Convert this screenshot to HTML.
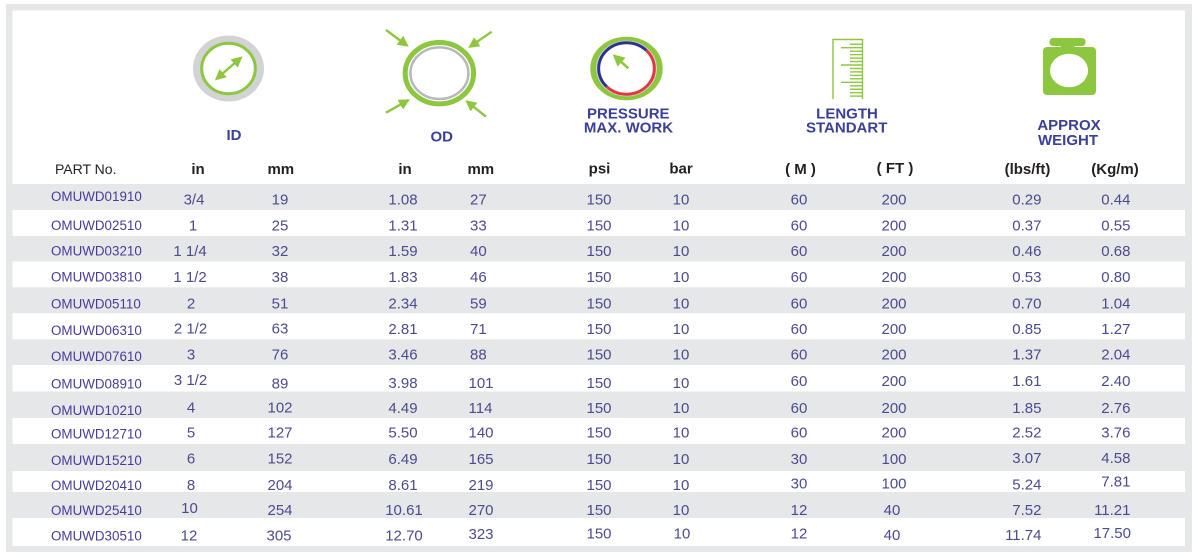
<!DOCTYPE html>
<html>
<head>
<meta charset="utf-8">
<style>
html,body{margin:0;padding:0;background:#fff;width:1198px;height:558px;overflow:hidden;}
svg{display:block;}
text{font-family:"Liberation Sans",Arial,sans-serif;}
.lbl{font-size:15px;font-weight:bold;fill:#3a3f98;text-anchor:middle;}
.unit{font-size:15px;font-weight:bold;fill:#231f20;text-anchor:middle;}
.part{font-size:13.4px;fill:#463c9c;}
.n{font-size:15px;fill:#4b4b8f;text-anchor:middle;}
.nl{font-size:15px;fill:#4b4b8f;text-anchor:start;}
.nr{font-size:15px;fill:#4b4b8f;text-anchor:end;}
</style>
</head>
<body>
<svg width="1198" height="558" viewBox="0 0 1198 558" xmlns="http://www.w3.org/2000/svg">
<defs>
<marker id="ah" viewBox="0 0 10 10" refX="8" refY="5" markerWidth="4.6" markerHeight="4.6" orient="auto-start-reverse" markerUnits="strokeWidth">
<path d="M0,0 L10,5 L0,10 z" fill="#8dc63f"/>
</marker>
</defs>
<!-- frame -->
<rect x="6" y="4" width="1186" height="548" fill="#e6e7e8"/>
<rect x="12.5" y="10.5" width="1172.5" height="535.5" fill="#ffffff"/>
<!-- stripes -->
<g fill="#e6e7e8">
<rect x="12.5" y="184" width="1172.5" height="26"/>
<rect x="12.5" y="236" width="1172.5" height="25.5"/>
<rect x="12.5" y="287.3" width="1172.5" height="26"/>
<rect x="12.5" y="339.3" width="1172.5" height="25.7"/>
<rect x="12.5" y="391.5" width="1172.5" height="26.5"/>
<rect x="12.5" y="444" width="1172.5" height="27"/>
<rect x="12.5" y="492" width="1172.5" height="26"/>
</g>

<!-- ID icon -->
<ellipse cx="228.5" cy="68.5" rx="35.5" ry="33" fill="#d1d3d4"/>
<ellipse cx="228.5" cy="68.5" rx="26.8" ry="25.2" fill="#fff" stroke="#8dc63f" stroke-width="3"/>
<line x1="216.5" y1="78.9" x2="240.8" y2="57.8" stroke="#8dc63f" stroke-width="2.4" marker-start="url(#ah)" marker-end="url(#ah)"/>

<!-- OD icon -->
<ellipse cx="439.4" cy="73.2" rx="34.2" ry="30.7" fill="#fff" stroke="#8dc63f" stroke-width="5"/>
<ellipse cx="439.4" cy="73.2" rx="29" ry="25.8" fill="none" stroke="#b7b8ba" stroke-width="2.5"/>
<line x1="386" y1="30" x2="407" y2="45.5" stroke="#8dc63f" stroke-width="2.4" marker-end="url(#ah)"/>
<line x1="491.7" y1="31.7" x2="470" y2="46.7" stroke="#8dc63f" stroke-width="2.4" marker-end="url(#ah)"/>
<line x1="386" y1="112.7" x2="408" y2="100.3" stroke="#8dc63f" stroke-width="2.4" marker-end="url(#ah)"/>
<line x1="486" y1="116.7" x2="467" y2="101.6" stroke="#8dc63f" stroke-width="2.4" marker-end="url(#ah)"/>

<!-- Pressure icon -->
<ellipse cx="626.5" cy="68.5" rx="33.2" ry="28.8" fill="#fff" stroke="#8dc63f" stroke-width="6"/>
<ellipse cx="626.5" cy="68.5" rx="29.8" ry="27.4" fill="none" stroke="#d6d6d6" stroke-width="1"/>
<path d="M646.2,50.3 A27.8,25.7 0 0 1 606.8,86.7" fill="none" stroke="#e2373f" stroke-width="3"/>
<path d="M606.8,86.7 A27.8,25.7 0 0 1 646.2,50.3" fill="none" stroke="#2e3192" stroke-width="3"/>
<line x1="628.3" y1="68.3" x2="614.5" y2="55.8" stroke="#8dc63f" stroke-width="2.6" marker-end="url(#ah)"/>

<!-- Ruler icon -->
<g stroke="#8dc63f" stroke-width="1.4" fill="none">
<path d="M833,99 L833,39.5 L862.5,39.5 L862.5,99"/>
<line x1="850" y1="44.2" x2="862.5" y2="44.2"/>
<line x1="841" y1="47.7" x2="862.5" y2="47.7"/>
<line x1="850" y1="51.2" x2="862.5" y2="51.2"/>
<line x1="850" y1="54.6" x2="862.5" y2="54.6"/>
<line x1="850" y1="58.1" x2="862.5" y2="58.1"/>
<line x1="850" y1="61.5" x2="862.5" y2="61.5"/>
<line x1="841" y1="65" x2="862.5" y2="65"/>
<line x1="850" y1="68.5" x2="862.5" y2="68.5"/>
<line x1="850" y1="71.9" x2="862.5" y2="71.9"/>
<line x1="850" y1="75.4" x2="862.5" y2="75.4"/>
<line x1="850" y1="78.8" x2="862.5" y2="78.8"/>
<line x1="841" y1="82.3" x2="862.5" y2="82.3"/>
<line x1="850" y1="85.8" x2="862.5" y2="85.8"/>
<line x1="850" y1="89.2" x2="862.5" y2="89.2"/>
<line x1="850" y1="92.7" x2="862.5" y2="92.7"/>
<line x1="850" y1="96.1" x2="862.5" y2="96.1"/>
</g>

<!-- Weight icon -->
<rect x="1049.5" y="38" width="36" height="8" rx="3.5" fill="#8dc63f"/>
<rect x="1060.5" y="44" width="14" height="5" fill="#8dc63f"/>
<rect x="1043" y="47" width="53" height="48" rx="4" fill="#8dc63f"/>
<ellipse cx="1069" cy="70.5" rx="19" ry="16.8" fill="#fff"/>

<!-- Labels -->
<text class="lbl" x="234" y="140">ID</text>
<text class="lbl" x="441.7" y="141.7">OD</text>
<text class="lbl" x="628.3" y="118.3">PRESSURE</text>
<text class="lbl" x="628.5" y="132.3">MAX. WORK</text>
<text class="lbl" x="847" y="118.3">LENGTH</text>
<text class="lbl" x="846.7" y="132.3">STANDART</text>
<text class="lbl" x="1069" y="130">APPROX</text>
<text class="lbl" x="1068" y="145">WEIGHT</text>

<!-- Units row -->
<text x="55" y="174" style="font-size:14px;fill:#231f20;">PART No.</text>
<text class="unit" x="198" y="174">in</text>
<text class="unit" x="280.8" y="174">mm</text>
<text class="unit" x="405" y="174">in</text>
<text class="unit" x="480.8" y="174">mm</text>
<text class="unit" x="599.5" y="173.5">psi</text>
<text class="unit" x="681" y="173.3">bar</text>
<text class="unit" x="800.5" y="174">( M )</text>
<text class="unit" x="895" y="173">( FT )</text>
<text class="unit" x="1027.5" y="174">(lbs/ft)</text>
<text class="unit" x="1115" y="174">(Kg/m)</text>

<!-- Rows -->
<g>
<text class="part" x="51" y="201">OMUWD01910</text>
<text class="n" x="194" y="204.5">3/4</text><text class="n" x="280" y="204.5">19</text><text class="n" x="403" y="204.5">1.08</text><text class="nl" x="470" y="204.5">27</text><text class="n" x="599" y="204.5">150</text><text class="n" x="681" y="204.5">10</text><text class="n" x="799" y="204.5">60</text><text class="n" x="894" y="204.5">200</text><text class="nr" x="1041.5" y="204.5">0.29</text><text class="nr" x="1130.5" y="204.5">0.44</text>
</g>
<g>
<text class="part" x="51" y="230">OMUWD02510</text>
<text class="n" x="193" y="230.3">1</text><text class="n" x="280" y="230.3">25</text><text class="n" x="403" y="230.3">1.31</text><text class="nl" x="470" y="230.3">33</text><text class="n" x="599" y="230.3">150</text><text class="n" x="681" y="230.3">10</text><text class="n" x="799" y="230.3">60</text><text class="n" x="894" y="230.3">200</text><text class="nr" x="1041.5" y="230.3">0.37</text><text class="nr" x="1130.5" y="230.3">0.55</text>
</g>
<g>
<text class="part" x="51" y="255.7">OMUWD03210</text>
<text class="n" x="190" y="256">1 1/4</text><text class="n" x="280" y="256">32</text><text class="n" x="403" y="256">1.59</text><text class="nl" x="470" y="256">40</text><text class="n" x="599" y="256">150</text><text class="n" x="681" y="256">10</text><text class="n" x="799" y="256">60</text><text class="n" x="894" y="256">200</text><text class="nr" x="1041.5" y="256">0.46</text><text class="nr" x="1130.5" y="256">0.68</text>
</g>
<g>
<text class="part" x="51" y="281.7">OMUWD03810</text>
<text class="n" x="190" y="282">1 1/2</text><text class="n" x="280" y="282">38</text><text class="n" x="403" y="282">1.83</text><text class="nl" x="470" y="282">46</text><text class="n" x="599" y="282">150</text><text class="n" x="681" y="282">10</text><text class="n" x="799" y="282">60</text><text class="n" x="894" y="282">200</text><text class="nr" x="1041.5" y="282">0.53</text><text class="nr" x="1130.5" y="282">0.80</text>
</g>
<g>
<text class="part" x="51" y="308.3">OMUWD05110</text>
<text class="n" x="191" y="308.3">2</text><text class="n" x="280" y="308.3">51</text><text class="n" x="403" y="308.3">2.34</text><text class="nl" x="470" y="308.3">59</text><text class="n" x="599" y="308.3">150</text><text class="n" x="681" y="308.3">10</text><text class="n" x="799" y="308.3">60</text><text class="n" x="894" y="308.3">200</text><text class="nr" x="1041.5" y="308.3">0.70</text><text class="nr" x="1130.5" y="308.3">1.04</text>
</g>
<g>
<text class="part" x="51" y="335">OMUWD06310</text>
<text class="n" x="190.5" y="333.3">2 1/2</text><text class="n" x="280" y="333.3">63</text><text class="n" x="403" y="334">2.81</text><text class="nl" x="470" y="334">71</text><text class="n" x="599" y="334">150</text><text class="n" x="681" y="334">10</text><text class="n" x="799" y="334">60</text><text class="n" x="894" y="334">200</text><text class="nr" x="1041.5" y="334">0.85</text><text class="nr" x="1130.5" y="334">1.27</text>
</g>
<g>
<text class="part" x="51" y="361">OMUWD07610</text>
<text class="n" x="191" y="359.3">3</text><text class="n" x="280" y="359.3">76</text><text class="n" x="403" y="359.5">3.46</text><text class="nl" x="470" y="359.5">88</text><text class="n" x="599" y="359.5">150</text><text class="n" x="681" y="359.5">10</text><text class="n" x="799" y="359.5">60</text><text class="n" x="894" y="359.5">200</text><text class="nr" x="1041.5" y="359.5">1.37</text><text class="nr" x="1130.5" y="359.5">2.04</text>
</g>
<g>
<text class="part" x="51" y="388.3">OMUWD08910</text>
<text class="n" x="190.5" y="385">3 1/2</text><text class="n" x="280" y="388.3">89</text><text class="n" x="403" y="388">3.98</text><text class="nl" x="468.5" y="388">101</text><text class="n" x="599" y="388">150</text><text class="n" x="681" y="388">10</text><text class="n" x="799" y="386">60</text><text class="n" x="894" y="386">200</text><text class="nr" x="1041.5" y="386">1.61</text><text class="nr" x="1130.5" y="386">2.40</text>
</g>
<g>
<text class="part" x="51" y="415">OMUWD10210</text>
<text class="n" x="191" y="412.7">4</text><text class="n" x="280" y="412.7">102</text><text class="n" x="403" y="413">4.49</text><text class="nl" x="468.5" y="413">114</text><text class="n" x="599" y="413">150</text><text class="n" x="681" y="413">10</text><text class="n" x="799" y="413">60</text><text class="n" x="894" y="413">200</text><text class="nr" x="1041.5" y="413">1.85</text><text class="nr" x="1130.5" y="413">2.76</text>
</g>
<g>
<text class="part" x="51" y="438.3">OMUWD12710</text>
<text class="n" x="191" y="437.3">5</text><text class="n" x="280" y="437.3">127</text><text class="n" x="403" y="437.5">5.50</text><text class="nl" x="468.5" y="437.5">140</text><text class="n" x="599" y="437.5">150</text><text class="n" x="681" y="437.5">10</text><text class="n" x="799" y="437.5">60</text><text class="n" x="894" y="437.5">200</text><text class="nr" x="1041.5" y="437.5">2.52</text><text class="nr" x="1130.5" y="437.5">3.76</text>
</g>
<g>
<text class="part" x="51" y="465">OMUWD15210</text>
<text class="n" x="191" y="463.3">6</text><text class="n" x="280" y="463.3">152</text><text class="n" x="403" y="464">6.49</text><text class="nl" x="468.5" y="464">165</text><text class="n" x="599" y="464">150</text><text class="n" x="681" y="464">10</text><text class="n" x="799" y="464">30</text><text class="n" x="894" y="464">100</text><text class="nr" x="1041.5" y="463">3.07</text><text class="nr" x="1130.5" y="463">4.58</text>
</g>
<g>
<text class="part" x="51" y="490">OMUWD20410</text>
<text class="n" x="191" y="490">8</text><text class="n" x="280" y="490">204</text><text class="n" x="403" y="490">8.61</text><text class="nl" x="468.5" y="490">219</text><text class="n" x="599" y="490">150</text><text class="n" x="681" y="490">10</text><text class="n" x="799" y="488.5">30</text><text class="n" x="894" y="488.5">100</text><text class="nr" x="1041.5" y="489.5">5.24</text><text class="nr" x="1130.5" y="486.7">7.81</text>
</g>
<g>
<text class="part" x="51" y="515">OMUWD25410</text>
<text class="n" x="189.5" y="513">10</text><text class="n" x="280" y="515">254</text><text class="n" x="404" y="515">10.61</text><text class="nl" x="468.5" y="515">270</text><text class="n" x="599" y="515">150</text><text class="n" x="681" y="515">10</text><text class="n" x="799" y="515">12</text><text class="n" x="892" y="515">40</text><text class="nr" x="1041.5" y="515">7.52</text><text class="nr" x="1130.5" y="515">11.21</text>
</g>
<g>
<text class="part" x="51" y="540.7">OMUWD30510</text>
<text class="n" x="189" y="540.5">12</text><text class="n" x="279" y="540.5">305</text><text class="n" x="404" y="540.5">12.70</text><text class="nl" x="468.5" y="539">323</text><text class="n" x="599" y="538.5">150</text><text class="n" x="682" y="538.5">10</text><text class="n" x="799" y="538.5">12</text><text class="n" x="892" y="540">40</text><text class="nr" x="1041.5" y="540">11.74</text><text class="nr" x="1131" y="538">17.50</text>
</g>
</svg>
</body>
</html>
